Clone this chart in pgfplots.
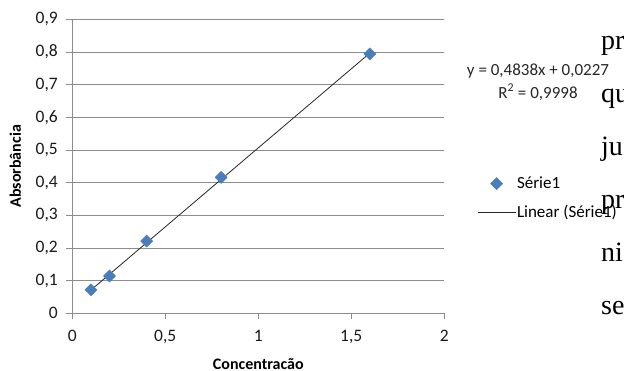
\documentclass[border=0pt]{standalone}
\usepackage{fontspec}
\setmainfont{Carlito}
\newfontfamily\docserif{Liberation Serif}
\usepackage{pgfplots}
\pgfplotsset{compat=1.18}
\definecolor{exblue}{HTML}{4A7EBB}
\definecolor{gridgray}{HTML}{8C8C8C}
\pgfplotsset{
  markleg/.style={legend image code/.code={\draw[mark repeat=2,mark phase=2,##1] plot coordinates {(0pt,0pt) (19pt,0pt) (38pt,0pt)};}},
  lineleg/.style={legend image code/.code={\draw[##1] (0pt,0pt) -- (38pt,0pt);}},
}
\begin{document}
\begin{tikzpicture}[x=1pt,y=1pt]
\begin{axis}[
  at={(72.3pt,57.7pt)}, anchor=south west,
  scale only axis, width=372pt, height=294pt,
  xmin=0, xmax=2, ymin=0, ymax=0.9,
  axis lines*=left,
  axis line style={gridgray, line width=0.9pt},
  xtick={0,0.5,1,1.5,2},
  ytick={0,0.1,0.2,0.3,0.4,0.5,0.6,0.7,0.8,0.9},
  tick align=outside,
  major tick length=6pt,
  tick style={gridgray, line width=0.9pt},
  ymajorgrids,
  grid style={gridgray, line width=0.9pt},
  /pgf/number format/assume math mode=true,
  /pgf/number format/use comma,
  /pgf/number format/fixed,
  tick label style={font=\fontsize{17.5}{20}\selectfont, text=black!90},
  yticklabel style={xshift=-5pt},
  xticklabel style={yshift=-7pt},
  xlabel={Concentracão},
  ylabel={Absorbância},
  every axis x label/.style={at={(axis description cs:0.5,-0.173)}, anchor=center, inner sep=0pt, font=\bfseries\fontsize{16}{19}\selectfont},
  every axis y label/.style={at={(axis description cs:-0.153,0.5)}, anchor=center, inner sep=0pt, rotate=90, font=\bfseries\fontsize{16}{19}\selectfont},
  legend style={draw=none, fill=none, inner sep=0pt, at={(axis description cs:1.088,0.392)}, anchor=west,
    font=\fontsize{17}{20}\selectfont, row sep=13pt, nodes={inner sep=1pt}, cells={anchor=west}},
  clip=false,
]
\addplot[only marks, mark=square*, mark size=4.3pt, mark options={rotate=45, fill=exblue, draw=exblue}, markleg]
  coordinates {(0.1,0.072) (0.2,0.114) (0.4,0.221) (0.8,0.416) (1.6,0.794)};
\addlegendentry{Série1}
\addplot[black!85, line width=0.8pt, lineleg]
  coordinates {(0.1,0.07108) (1.6,0.79678)};
\addlegendentry{Linear (Série1)}
\end{axis}
\node[align=center, font=\fontsize{17}{23}\selectfont, text=black!85] at (538pt,289pt) {y = 0,4838x + 0,0227\\R\textsuperscript{2} = 0,9998};
\foreach \w [count=\i from 0] in {pr,qu,ju,pr,ni,se} {
  \node[anchor=base west, inner sep=0pt, font=\docserif\fontsize{28}{32}\selectfont] at (601pt,{371-50-53*\i}) {\w};
}
\pgfresetboundingbox
\path[use as bounding box] (0,0) rectangle (624pt,371pt);
\end{tikzpicture}
\end{document}
